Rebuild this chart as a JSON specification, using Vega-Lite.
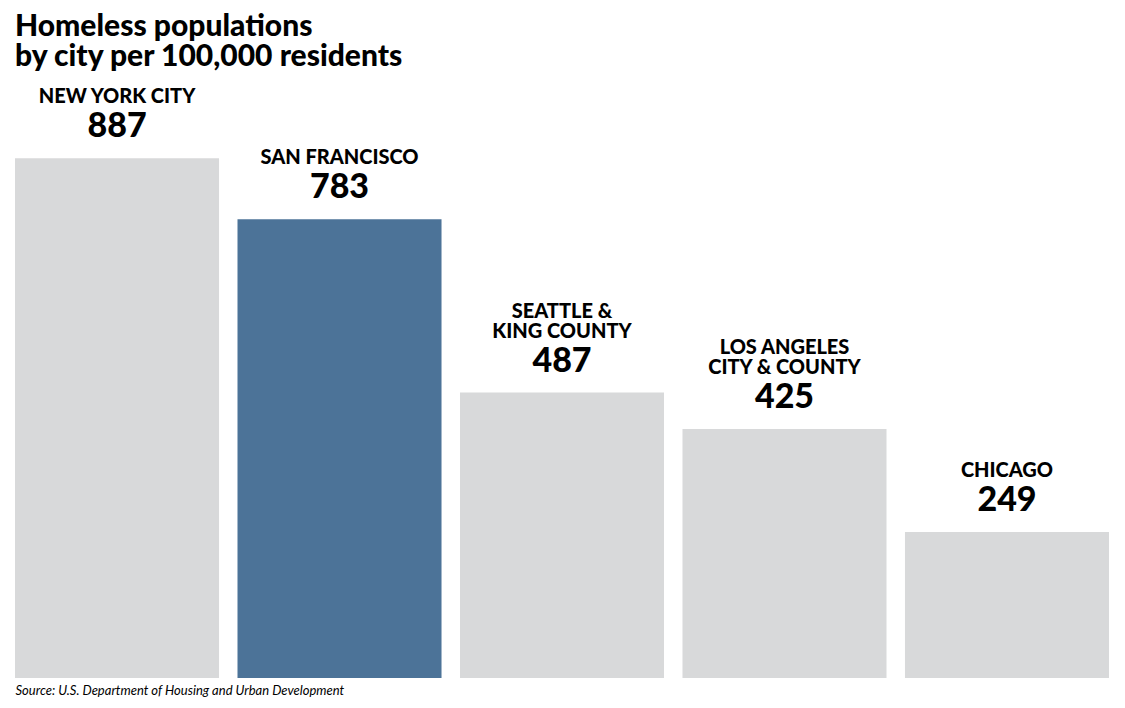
{
  "$schema": "https://vega.github.io/schema/vega-lite/v6.json",
  "width": 1094,
  "height": 586,
  "autosize": "none",
  "padding": {"left": 15, "top": 92, "right": 16, "bottom": 30},
  "background": "white",
  "config": {"view": {"stroke": null}, "font": "Lato"},
  "title": {
    "text": ["Homeless populations", "by city per 100,000 residents"],
    "anchor": "start",
    "frame": "group",
    "font": "Lato",
    "fontSize": 30,
    "fontWeight": 900,
    "color": "#000000",
    "lineHeight": 30,
    "offset": -5
  },
  "data": {
    "values": [
      {"city": "NEW YORK CITY", "line1": "", "line2": "NEW YORK CITY", "value": 887, "highlight": "no"},
      {"city": "SAN FRANCISCO", "line1": "", "line2": "SAN FRANCISCO", "value": 783, "highlight": "yes"},
      {"city": "SEATTLE", "line1": "SEATTLE &", "line2": "KING COUNTY", "value": 487, "highlight": "no"},
      {"city": "LOS ANGELES", "line1": "LOS ANGELES", "line2": "CITY & COUNTY", "value": 425, "highlight": "no"},
      {"city": "CHICAGO", "line1": "", "line2": "CHICAGO", "value": 249, "highlight": "no"}
    ]
  },
  "encoding": {
    "x": {
      "field": "city",
      "type": "nominal",
      "sort": null,
      "scale": {"paddingInner": 0.083, "paddingOuter": 0},
      "axis": {
        "labels": false,
        "ticks": false,
        "domain": false,
        "title": "Source: U.S. Department of Housing and Urban Development",
        "titleAnchor": "start",
        "titleAlign": "left",
        "titleFont": "Lato",
        "titleFontSize": 13,
        "titleFontStyle": "italic",
        "titleFontWeight": "normal",
        "titleColor": "#000000",
        "titlePadding": 6
      }
    },
    "y": {
      "field": "value",
      "type": "quantitative",
      "scale": {"domain": [0, 1000], "nice": false},
      "axis": null
    }
  },
  "layer": [
    {
      "mark": {"type": "bar"},
      "encoding": {
        "color": {
          "field": "highlight",
          "type": "nominal",
          "scale": {"domain": ["no", "yes"], "range": ["#d8d9da", "#4c7398"]},
          "legend": null
        }
      }
    },
    {
      "mark": {"type": "text", "baseline": "alphabetic", "dy": -21, "fontSize": 34, "fontWeight": 900, "font": "Lato", "color": "#000000"},
      "encoding": {"text": {"field": "value", "type": "quantitative"}}
    },
    {
      "mark": {"type": "text", "baseline": "alphabetic", "dy": -55, "fontSize": 20, "fontWeight": 900, "font": "Lato", "color": "#000000"},
      "encoding": {"text": {"field": "line2", "type": "nominal"}}
    },
    {
      "mark": {"type": "text", "baseline": "alphabetic", "dy": -75, "fontSize": 20, "fontWeight": 900, "font": "Lato", "color": "#000000"},
      "encoding": {"text": {"field": "line1", "type": "nominal"}}
    }
  ]
}
